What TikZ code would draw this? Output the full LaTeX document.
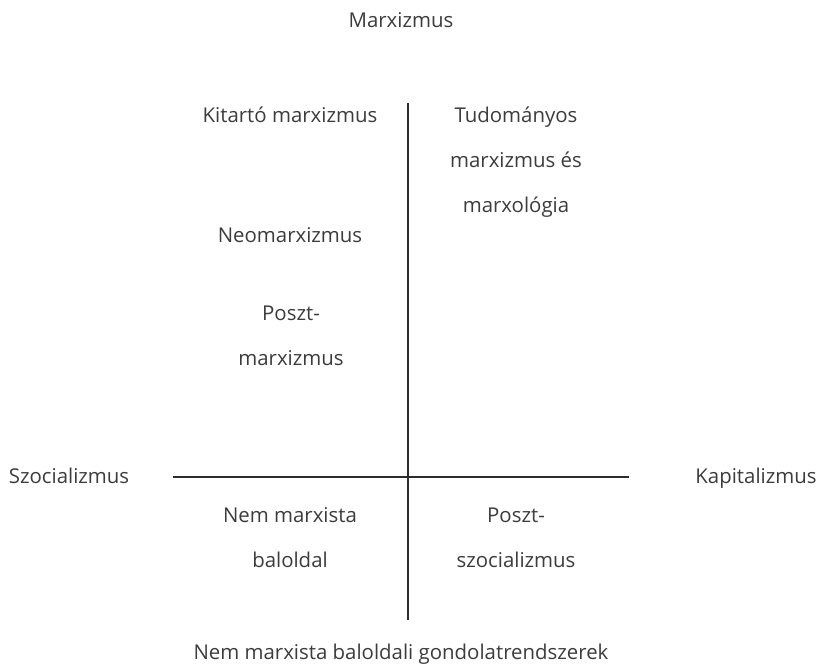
\documentclass[tikz,border=0pt]{standalone}
\usepackage{fontspec}
\setmainfont{Open Sans}
\definecolor{charcoal}{RGB}{45, 45, 45}
\definecolor{inkgray}{RGB}{60, 60, 60}

\tikzset{
    quadlabel/.style={font=\fontsize{20.4pt}{45pt}\selectfont, text=inkgray,
                      inner sep=0pt, anchor=base, align=center},
    axisline/.style={charcoal, line width=1.5pt}
}

\begin{document}
\begin{tikzpicture}[x=1pt, y=-1pt]
            % Axes
            \coordinate (top)    at (408, 103);
            \coordinate (bottom) at (408, 620);
            \coordinate (left)   at (173, 477);
            \coordinate (right)  at (629, 477);
            \draw[axisline] (left) -- (right);
            \draw[axisline] (top)  -- (bottom);
            % Pole labels
            \node[quadlabel] (marx)    at (401,  28) {Marxizmus};
            \node[quadlabel] (nonmarx) at (401, 659) {Nem marxista baloldali gondolatrendszerek};
            \node[quadlabel] (social)  at ( 69, 483) {Szocializmus};
            \node[quadlabel] (capit)   at (756, 483) {Kapitalizmus};
            % Upper left (base anchor sits on the last line)
            \node[quadlabel] (kitarto) at (290, 123) {Kitartó marxizmus};
            \node[quadlabel] (neo)     at (290, 243) {Neomarxizmus};
            \node[quadlabel] (postmx)  at (291, 365) {Poszt-\\marxizmus};
            % Upper right
            \node[quadlabel] (scient)  at (516, 213) {Tudományos\\marxizmus és\\marxológia};
            % Lower left
            \node[quadlabel] (nonmxleft) at (290, 567) {Nem marxista\\baloldal};
            % Lower right
            \node[quadlabel] (postsoc) at (516, 567) {Poszt-\\szocializmus};
            % Frame to ensure alignment:
            \path (0, 0) rectangle (821, 668);
\end{tikzpicture}
\end{document}
